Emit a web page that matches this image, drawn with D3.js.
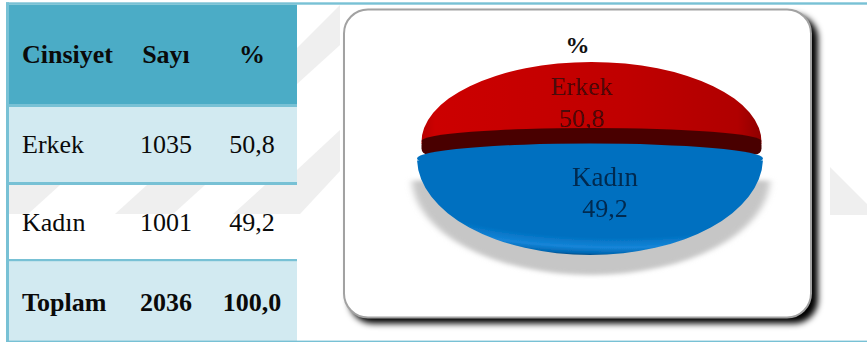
<!DOCTYPE html>
<html><head><meta charset="utf-8">
<script src="https://cdn.jsdelivr.net/npm/d3@7"></script>
<style>html,body{margin:0;padding:0;background:#fff;overflow:hidden}svg{display:block}
text{font-family:"Liberation Serif",serif}</style></head>
<body><svg id="c" width="867" height="342"></svg>
<script>
const headers = ["Cinsiyet", "Sayı", "%"];
const categories = ["Erkek", "Kadın"];
const counts = [1035, 1001];
const percents = [50.8, 49.2];
const totalLabel = "Toplam";
const totalCount = 2036;
const totalPercent = 100.0;
const chartTitle = "%";

const fmtPct = v => v.toFixed(1).replace(".", ",");
const svg = d3.select("#c");
const defs = svg.append("defs");
const blur = (id, s) => defs.append("filter").attr("id", id)
  .attr("x", "-10%").attr("y", "-10%").attr("width", "120%").attr("height", "120%")
  .append("feGaussianBlur").attr("stdDeviation", s);
blur("b3", 3); blur("b5", 3.5); blur("bt", 0.45);
const grad = (id, stops) => {
  const g = defs.append("linearGradient").attr("id", id).attr("x1", 0).attr("y1", 0).attr("x2", 1).attr("y2", 0);
  stops.forEach(([o, c]) => g.append("stop").attr("offset", o).attr("stop-color", c));
};
grad("red", [[0, "#b80000"], [.04, "#cc0000"], [.6, "#c00000"], [.93, "#b00000"], [1, "#8e0000"]]);
const blueG = defs.append("radialGradient").attr("id", "blue").attr("cx", .58).attr("cy", .15).attr("r", .86);
[[0, "#0070c0"], [.78, "#0070c0"], [.9, "#1585d8"], [.97, "#0068b4"], [1, "#00467c"]]
  .forEach(([o, c]) => blueG.append("stop").attr("offset", o).attr("stop-color", c));

// watermark
const wm = svg.append("g").attr("fill", "#efefef");
const watermark = [
  [[340,5],[340,45],[297,84],[297,48]],
  [[340,130],[340,171],[300,214],[297,214],[297,170]],
  [[6,185],[60,185],[28,214],[6,214]],
  [[147,185],[205,185],[173,214],[115,214]],
  [[265,185],[297,185],[297,214],[233,214]],
  [[830,167],[867,204],[867,215],[830,215]]
];
wm.selectAll("path").data(watermark).join("path").attr("d", d => d3.line()(d) + "Z");

// table
const rowEdges = [4.5, 104, 185, 261, 341];
const rowFill = ["#4bacc6", "#d2eaf1", null, "#d2eaf1"];
const rowLine = "#78c1d5";
const tbl = svg.append("g");
rowFill.forEach((f, i) => {
  if (f) tbl.append("rect").attr("x", 6).attr("width", 291).attr("y", rowEdges[i]).attr("height", rowEdges[i + 1] - rowEdges[i]).attr("fill", f);
});
const hline = (x1, x2, y, h) => tbl.append("rect").attr("x", x1).attr("width", x2 - x1).attr("y", y).attr("height", h).attr("fill", rowLine);
hline(6, 867, 2.3, 2.4);
hline(6, 297, 104, 3);
hline(6, 297, 182, 3);
hline(6, 297, 259, 2.2);
hline(6, 867, 340.6, 1.4);
tbl.append("rect").attr("x", 6).attr("y", 2.3).attr("width", 3).attr("height", 339).attr("fill", rowLine);

const rows = [
  {cells: headers, y: 63, bold: true},
  {cells: [categories[0], String(counts[0]), fmtPct(percents[0])], y: 153},
  {cells: [categories[1], String(counts[1]), fmtPct(percents[1])], y: 231},
  {cells: [totalLabel, String(totalCount), fmtPct(totalPercent)], y: 311, bold: true}
];
const cellX = [22, 166, 252];
rows.forEach((r, i) => r.cells.forEach((c, j) => {
  tbl.append("text").attr("x", cellX[j]).attr("y", r.y)
    .attr("text-anchor", j === 0 ? "start" : "middle")
    .attr("font-size", 26).attr("font-weight", r.bold ? "bold" : "normal")
    .attr("fill", "#0a0a0a").text(c);
}));

// panel
const panel = {x: 344, y: 9.5, w: 467, h: 308, r: 24};
svg.append("rect").attr("x", panel.x + 5).attr("y", panel.y + 5).attr("width", panel.w + 2).attr("height", panel.h + 1)
  .attr("rx", panel.r).attr("fill", "#000").attr("filter", "url(#b3)");
svg.append("rect").attr("x", panel.x).attr("y", panel.y).attr("width", panel.w).attr("height", panel.h)
  .attr("rx", panel.r).attr("fill", "#fff").attr("stroke", "#a2a2a2").attr("stroke-width", 2);

// pie
const total = d3.sum(percents);
const half = Math.PI * percents[0] / total;
const pie = d3.pie().sort(null).startAngle(-half).endAngle(2 * Math.PI - half);
const slices = pie(percents);
const whole = d3.pie().sort(null)([total])[0];
const arcGen = r => d3.arc().innerRadius(0).outerRadius(r);
const lens = (g, datum, cx, cy, rx, ry, fill, extra) => g.append("path")
  .attr("d", arcGen(rx)(datum))
  .attr("transform", `translate(${cx},${cy}) scale(1,${ry / rx})`)
  .attr("fill", fill).attr("filter", extra || null);

const chart = svg.append("g");
const pieFilter = "url(#bt)";
// floor shadow
lens(chart, slices[1], 591, 178, 179, 97, "#c6c6c6", "url(#b5)");

// upper slice
const upper = chart.append("g").attr("filter", pieFilter);
lens(upper, slices[0], 591.5, 142, 170, 80, "url(#red)");
upper.append("text").attr("x", 582).attr("y", 95).attr("text-anchor", "middle").attr("font-size", 26).attr("fill", "#4a0707").text(categories[0]);
upper.append("text").attr("x", 582).attr("y", 127).attr("text-anchor", "middle").attr("font-size", 26).attr("fill", "#4a0707").text(fmtPct(percents[0]));
// cut face of the upper slice
lens(upper, whole, 591.5, 141, 170, 13, "#4a0000");
upper.append("rect").attr("x", 421.5).attr("y", 139).attr("width", 340).attr("height", 15.5).attr("rx", 6).attr("fill", "#4a0000");

// lower slice
const lower = chart.append("g").attr("filter", pieFilter);
lens(lower, whole, 590, 158.5, 173, 15, "#0070c0");
lens(lower, slices[1], 590, 158, 173, 97, "url(#blue)");
lower.append("text").attr("x", 605).attr("y", 186).attr("text-anchor", "middle").attr("font-size", 27).attr("fill", "#04294f").text(categories[1]);
lower.append("text").attr("x", 605).attr("y", 217).attr("text-anchor", "middle").attr("font-size", 26).attr("fill", "#04294f").text(fmtPct(percents[1]));

svg.append("text").attr("x", 577.5).attr("y", 53).attr("text-anchor", "middle").attr("font-size", 24).attr("font-weight", "bold").attr("fill", "#111").text(chartTitle);
</script></body></html>
